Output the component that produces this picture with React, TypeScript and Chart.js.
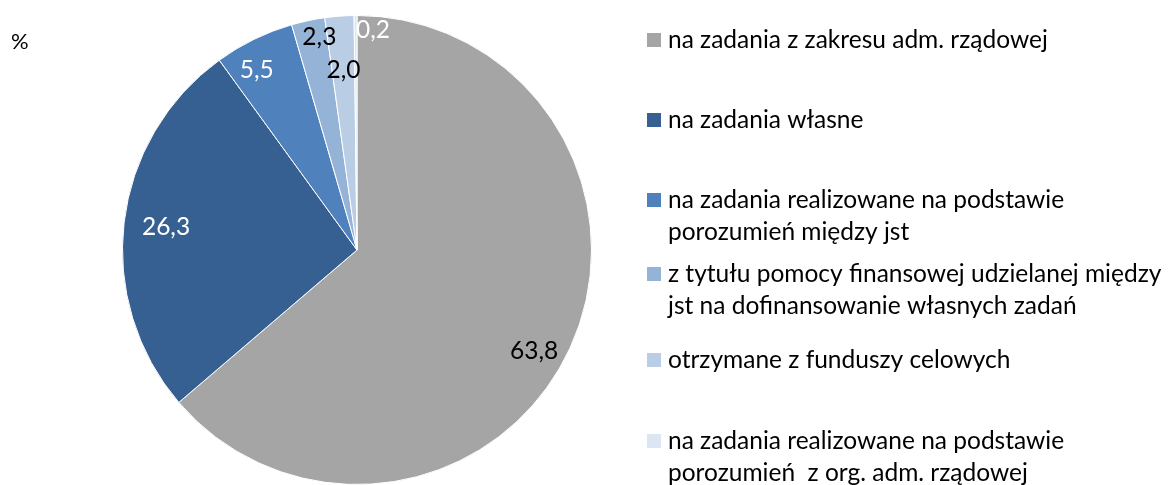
import React, { useEffect, useRef } from "react";
import { Chart, registerables } from "chart.js";

Chart.register(...registerables);

const categories: string[][] = [
  ["na zadania z zakresu adm. rządowej"],
  ["na zadania własne"],
  ["na zadania realizowane na podstawie", "porozumień między jst"],
  ["z tytułu pomocy finansowej udzielanej między", "jst na dofinansowanie własnych zadań"],
  ["otrzymane z funduszy celowych"],
  ["na zadania realizowane na podstawie", "porozumień  z org. adm. rządowej"],
];
const values: number[] = [63.8, 26.3, 5.5, 2.3, 2.0, 0.2];
const valueLabels: string[] = ["63,8", "26,3", "5,5", "2,3", "2,0", "0,2"];
const colors: string[] = ["#A5A5A5", "#376092", "#4F81BD", "#95B3D7", "#B9CDE5", "#DCE6F2"];
const labelColors: string[] = ["#000000", "#FFFFFF", "#FFFFFF", "#000000", "#000000", "#FFFFFF"];
const labelRadius: number[] = [0.87, 0.82, 0.88, 0.92, 0.77, 0.94];
const labelAngleShift: number[] = [5, 0, -3, 2, 0, 4.5];
const unitLabel = "%";

const FONT = "Lato, sans-serif";

const overlayPlugin = {
  id: "overlay",
  afterDatasetsDraw(chart: any) {
    const ctx = chart.ctx;
    const meta = chart.getDatasetMeta(0);
    ctx.save();
    ctx.font = `24.5px ${FONT}`;
    ctx.textAlign = "center";
    ctx.textBaseline = "middle";
    meta.data.forEach((arc: any, i: number) => {
      const p = arc.getProps(["x", "y", "startAngle", "endAngle", "outerRadius"], true);
      const mid = (p.startAngle + p.endAngle) / 2 + (labelAngleShift[i] * Math.PI) / 180;
      const r = p.outerRadius * labelRadius[i];
      ctx.fillStyle = labelColors[i];
      ctx.fillText(valueLabels[i], p.x + Math.cos(mid) * r, p.y + Math.sin(mid) * r);
    });
    // unit label
    ctx.fillStyle = "#000";
    ctx.textAlign = "left";
    ctx.font = `22px ${FONT}`;
    ctx.fillText(unitLabel, 11, 42);
    // legend
    const rows = [40, 120, 200, 274, 360, 441];
    ctx.font = `24.5px ${FONT}`;
    categories.forEach((lines, i) => {
      const y = rows[i];
      ctx.fillStyle = colors[i];
      ctx.fillRect(647, y - 7, 14, 14);
      ctx.fillStyle = "#000";
      lines.forEach((ln, j) => {
        ctx.fillText(ln, 668, y + j * 32);
      });
    });
    ctx.restore();
  },
};

export default function App() {
  const ref = useRef<HTMLCanvasElement>(null);
  useEffect(() => {
    if (!ref.current) return;
    const chart = new Chart(ref.current, {
      type: "pie",
      data: {
        labels: categories.map((c) => c.join(" ")),
        datasets: [
          {
            data: values,
            backgroundColor: colors,
            borderColor: "#FFFFFF",
            borderWidth: 1,
          },
        ],
      },
      options: {
        animation: false,
        responsive: false,
        layout: { padding: { left: 119, right: 574, top: 15, bottom: -3 } },
        plugins: {
          legend: { display: false },
          tooltip: { enabled: false },
        },
      },
      plugins: [overlayPlugin],
    });
    return () => chart.destroy();
  }, []);
  return (
    <div style={{ position: "fixed", left: 0, top: 0, width: 1169, height: 485, background: "#fff" }}>
      <canvas ref={ref} width={1169} height={485} style={{ width: 1169, height: 485 }} />
    </div>
  );
}
